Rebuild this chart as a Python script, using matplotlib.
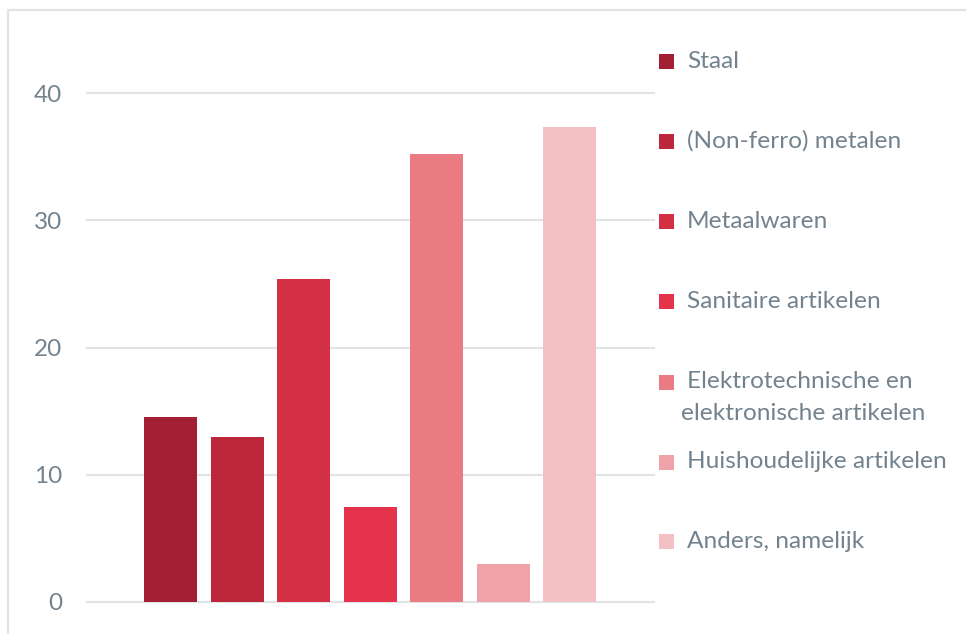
import matplotlib.pyplot as plt
from matplotlib.patches import Rectangle

categories = ["Staal", "(Non-ferro) metalen", "Metaalwaren", "Sanitaire artikelen",
              "Elektrotechnische en\nelektronische artikelen", "Huishoudelijke artikelen",
              "Anders, namelijk"]
values = [14.5, 13.0, 25.4, 7.5, 35.2, 3.0, 37.3]
colors = ["#a31f34", "#bd273c", "#d33044", "#e5334b", "#ea7b82", "#efa2a8", "#f3c1c4"]
yticks = [0, 10, 20, 30, 40]

TEXT = "#73838d"
GRID = "#e1e4e7"
plt.rcParams["font.family"] = ["Lato", "DejaVu Sans"]

W, H = 966, 634
fig = plt.figure(figsize=(W / 100, H / 100), dpi=100)
ax = fig.add_axes([87 / W, (H - 602) / H, 567 / W, 509 / H])

xs = list(range(len(values)))
ax.bar(xs, values, width=0.8, color=colors, zorder=3)
ax.set_xlim(-1.26, len(values) - 1 + 1.27)
ax.set_ylim(0, 40)
ax.set_yticks(yticks)
ax.set_yticklabels([str(t) for t in yticks])
ax.set_xticks([])
ax.tick_params(axis="y", length=0, pad=18, labelsize=17.5, labelcolor=TEXT)
ax.grid(axis="y", color=GRID, linewidth=1.6, zorder=0)
for gl in ax.get_ygridlines():
    gl.set_clip_on(False)
for s in ax.spines.values():
    s.set_visible(False)

# outer frame (left/top visible, right/bottom cut by image edge)
fig.add_artist(Rectangle((8 / W, -0.05), 1.1, (H - 10) / H + 0.05,
                         transform=fig.transFigure, fill=False,
                         edgecolor="#e2e2e2", linewidth=1.6))

# legend drawn manually
centers = [61, 141, 221, 301, 382, 462, 541]
for lab, col, yc in zip(categories, colors, centers):
    fig.add_artist(Rectangle((659 / W, (H - yc - 7.5) / H), 15 / W, 15 / H,
                             transform=fig.transFigure, facecolor=col,
                             edgecolor="none"))
    lines = lab.split("\n")
    fig.text(687 / W, (H - yc) / H, lines[0], fontsize=17.6, color=TEXT,
             va="center", ha="left")
    if len(lines) > 1:
        fig.text(681 / W, (H - yc - 31) / H, lines[1], fontsize=17.6, color=TEXT,
                 va="center", ha="left")

fig.savefig("out.png", dpi=100)
